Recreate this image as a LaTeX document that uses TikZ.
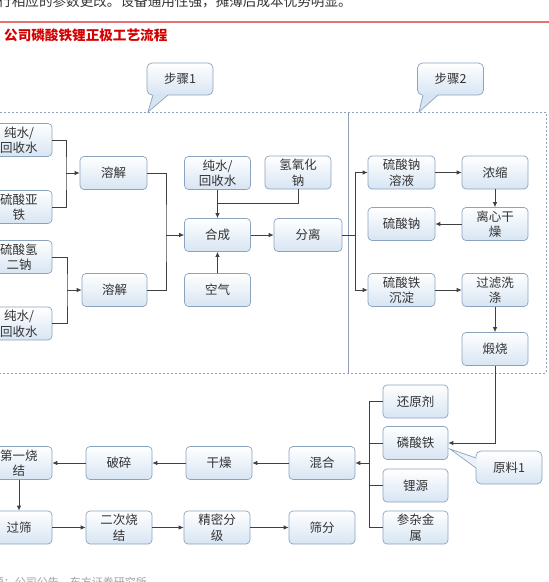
\documentclass[tikz,border=0pt]{standalone}
\usepackage{fontspec}
\newfontfamily\cjk{Noto Sans CJK SC}
\usetikzlibrary{arrows.meta,shadings}
\definecolor{boxline}{HTML}{8CA3BF}
\definecolor{boxbot}{HTML}{D7E5F3}
\definecolor{boxmid}{HTML}{EBF2F9}
\definecolor{txt}{HTML}{333333}
\definecolor{conn}{HTML}{404040}
\definecolor{regline}{HTML}{8FA0B8}
\definecolor{titred}{HTML}{D50000}
\definecolor{redline}{HTML}{E57373}
\tikzset{
  pbox/.style={draw=boxline, line width=0.7pt, rounded corners=4pt, top color=white, bottom color=boxbot,
    minimum width=66pt, minimum height=33pt, inner sep=0pt, align=center, text=txt,
    font=\cjk\fontsize{12.5}{15.5}\selectfont},
  cbox/.style={pbox, minimum width=66pt, minimum height=32pt, rounded corners=5pt},
  lnk/.style={draw=conn, line width=0.75pt},
  arr/.style={lnk, -{Latex[length=5pt,width=4.5pt]}},
  region/.style={draw=regline, line width=0.7pt, dash pattern=on 2pt off 2pt},
}
\begin{document}
\begin{tikzpicture}[x=1pt,y=-1pt]
\useasboundingbox (0,0) rectangle (549,582);
% header texts
\node[anchor=base west, inner sep=0pt, text=txt, font=\cjk\fontsize{13.6}{16}\selectfont] (toptext) at (-2,6) {行相应的参数更改。设备通用性强，摊薄后成本优势明显。};
\draw[redline, line width=1.2pt] (0,22) -- (549,22);
\node[anchor=west, inner sep=0pt, text=titred, font=\cjk\bfseries\fontsize{13.6}{16}\selectfont] (title) at (4,35.5) {公司磷酸铁锂正极工艺流程};
\node[anchor=base east, inner sep=0pt, text=gray!75, font=\cjk\fontsize{11}{13}\selectfont] (source) at (147,586) {资料来源：公司公告，东方证券研究所};

% regions
\draw[region] (0,112) -- (546,112) -- (546,373) -- (0,373);
\draw[regline, line width=0.7pt] (348,112) -- (348,373);

% callouts
\node[cbox] (s1) at (180,79) {步骤1};
\fill[boxbot] (152.5,94.2) -- (148,112) -- (168.5,94.2) -- cycle;
\draw[boxline, line width=0.7pt] (153,95) -- (148,112) -- (168,95);
\node[cbox] (s2) at (450.5,79) {步骤2};
\fill[boxbot] (422.5,94.2) -- (419,112) -- (438.5,94.2) -- cycle;
\draw[boxline, line width=0.7pt] (423,95) -- (419,112) -- (438,95);

% step 1 boxes
\node[pbox] (a1) at (19,140) {纯水/\\回收水};
\node[pbox] (a2) at (19,207) {硫酸亚\\铁};
\node[pbox] (a3) at (19,257) {硫酸氢\\二钠};
\node[pbox] (a4) at (19,323.5) {纯水/\\回收水};
\node[pbox, minimum width=67pt] (r1) at (113.5,173) {溶解};
\node[pbox, minimum width=65pt] (r2) at (114.5,290) {溶解};
\node[pbox] (b1) at (217.5,173) {纯水/\\回收水};
\node[pbox] (b2) at (298,172.5) {氢氧化\\钠};
\node[pbox] (hc) at (217.5,235) {合成};
\node[pbox] (kq) at (217.5,290) {空气};
\node[pbox, minimum width=68pt] (fl) at (308,235) {分离};

% step 2 boxes
\node[pbox, minimum width=67pt] (c1) at (401.5,172.5) {硫酸钠\\溶液};
\node[pbox] (c2) at (495,172.5) {浓缩};
\node[pbox] (c3) at (495,224) {离心干\\燥};
\node[pbox, minimum width=67pt] (c4) at (401.5,224) {硫酸钠};
\node[pbox, minimum width=67pt] (c5) at (401.5,290) {硫酸铁\\沉淀};
\node[pbox] (c6) at (495,290) {过滤洗\\涤};
\node[pbox] (c7) at (495,349) {煅烧};

% bottom boxes
\node[pbox, minimum width=65pt] (d1) at (415.5,401.5) {还原剂};
\node[pbox, minimum width=65pt] (d2) at (415.5,443) {磷酸铁};
\node[pbox, minimum width=65pt] (d3) at (415.5,485.5) {锂源};
\node[pbox, minimum width=65pt] (d4) at (415.5,527.5) {参杂金\\属};
\node[pbox] (e1) at (322,463) {混合};
\node[pbox] (e2) at (219,463) {干燥};
\node[pbox] (e3) at (119,463) {破碎};
\node[pbox] (e4) at (19,463) {第一烧\\结};
\node[pbox] (f1) at (19,527.5) {过筛};
\node[pbox] (f2) at (119,527.5) {二次烧\\结};
\node[pbox] (f3) at (217,527.5) {精密分\\级};
\node[pbox] (f4) at (322,527.5) {筛分};

% callout raw material
\node[cbox, minimum width=66pt, minimum height=33pt] (y1) at (509,467.5) {原料1};
\fill[boxmid] (477.2,457.5) -- (450,449) -- (477.2,468.5) -- cycle;
\draw[boxline, line width=0.7pt] (476,458) -- (450,449) -- (476,468);

% junctions
\coordinate (j1) at (66,173);
\coordinate (j2) at (67,290);
\coordinate (j3) at (166,235);
\coordinate (j4) at (217.5,203);
\coordinate (j5) at (355,235);
\coordinate (bt) at (369,401.5);
\coordinate (bb) at (369,527.5);
\coordinate (j6) at (369,463);

% connectors step 1
\draw[lnk] (a1.east) -| (j1) |- (a2.east);
\draw[arr] (j1) -- (r1.west);
\draw[lnk] (a3.east) -| (j2) |- (a4.east);
\draw[arr] (j2) -- (r2.west);
\draw[lnk] (r1.east) -| (j3) |- (r2.east);
\draw[arr] (j3) -- (hc.west);
\draw[lnk] (b2.south) |- (j4);
\draw[arr] (b1.south) -- (hc.north);
\draw[arr] (kq.north) -- (hc.south);
\draw[arr] (hc.east) -- (fl.west);

% connectors step 2
\draw[lnk] (fl.east) -- (j5);
\draw[arr] (j5) |- (c1.west);
\draw[arr] (j5) |- (c5.west);
\draw[arr] (c1.east) -- (c2.west);
\draw[arr] (c2.south) -- (c3.north);
\draw[arr] (c3.west) -- (c4.east);
\draw[arr] (c5.east) -- (c6.west);
\draw[arr] (c6.south) -- (c7.north);
\draw[arr] (c7.south) |- (d2.east);

% connectors bottom
\draw[lnk] (d1.west) -- (bt) -- (bb) -- (d4.west);
\draw[lnk] (d2.west) -- (d2.west -| bt);
\draw[lnk] (d3.west) -- (d3.west -| bt);
\draw[arr] (j6) -- (e1.east);
\draw[arr] (e1.west) -- (e2.east);
\draw[arr] (e2.west) -- (e3.east);
\draw[arr] (e3.west) -- (e4.east);
\draw[arr] (e4.south) -- (f1.north);
\draw[arr] (f1.east) -- (f2.west);
\draw[arr] (f2.east) -- (f3.west);
\draw[arr] (f3.east) -- (f4.west);
\end{tikzpicture}
\end{document}
